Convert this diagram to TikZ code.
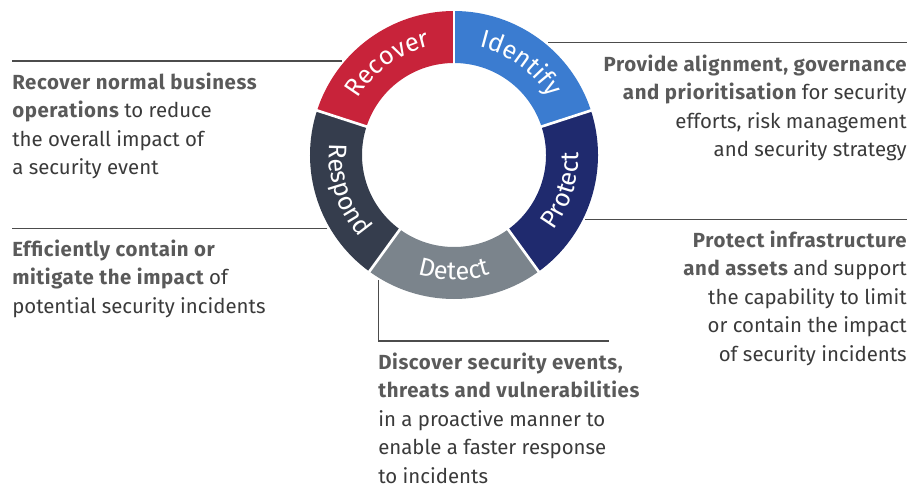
\documentclass[tikz,border=0pt]{standalone}
\usepackage{fontspec}
\setmainfont{Fira Sans}
\usetikzlibrary{decorations.text}
\definecolor{rcred}{HTML}{C8233A}
\definecolor{idblue}{HTML}{3B7CD0}
\definecolor{prnavy}{HTML}{1F2A6E}
\definecolor{dtgrey}{HTML}{7B848C}
\definecolor{rsslate}{HTML}{353D4D}
\definecolor{bodygrey}{HTML}{3A3A3A}
\definecolor{headgrey}{HTML}{5A5A5A}
\newcommand\labfont{\fontsize{19}{22}\selectfont\color{white}}
\newcommand\hl[1]{\textbf{\addfontfeatures{LetterSpace=3}\color{headgrey}#1}}
\tikzset{
  blurb/.style = {inner sep=0pt, font=\fontsize{15.3}{21.3}\selectfont, text=bodygrey},
  link/.style = {draw=black!70, line width=0.8pt},
  gap/.style = {draw=white, line width=2pt},
  seglabel/.style = {decorate, decoration={text along path, text align=center, text={|\labfont|#1}}}
}

\begin{document}
\begin{tikzpicture}[x=0.75pt, y=0.75pt]
  \useasboundingbox (0,0) rectangle (912,487);
  \begin{scope}[shift={(454,332)}]
    \foreach \a/\b/\col in {90/18/idblue, 18/-54/prnavy, -54/-126/dtgrey, -126/-198/rsslate, 162/90/rcred}
      \fill[\col] (\a:144) arc[start angle=\a, end angle=\b, radius=144] -- (\b:92) arc[start angle=\b, end angle=\a, radius=92] -- cycle;
    \foreach \a in {90,18,-54,-126,162}
      \draw[gap] (\a:90) -- (\a:146);
    \path[seglabel=Identify] (90:111) arc[start angle=90, end angle=18, radius=111];
    \path[seglabel=Recover] (162:111) arc[start angle=162, end angle=90, radius=111];
    \path[seglabel=Protect] (-54:125) arc[start angle=-54, end angle=18, radius=125];
    \path[seglabel=Detect] (-126:125) arc[start angle=-126, end angle=-54, radius=125];
    \path[seglabel=Respond] (162:125) arc[start angle=162, end angle=234, radius=125];
    \node[circle, minimum size=219pt, inner sep=0pt] (ring) at (0,0) {};
  \end{scope}

  % the base anchor sits on the last line
  \node[blurb, align=left, anchor=base west] (recov) at (12,312.5)
    {\hl{Recover normal business}\\\hl{operations} to reduce\\the overall impact of\\a security event};
  \node[blurb, align=left, anchor=base west] (resp) at (12,174)
    {\hl{Efficiently contain or}\\\hl{mitigate the impact} of\\potential security incidents};
  \node[blurb, align=right, anchor=base east] (ident) at (907,330.5)
    {\hl{Provide alignment, governance}\\\hl{and prioritisation} for security\\efforts, risk management\\and security strategy};
  \node[blurb, align=right, anchor=base east] (prot) at (907,126)
    {\hl{Protect infrastructure}\\\hl{and assets} and support\\the capability to limit\\or contain the impact\\of security incidents};
  \node[blurb, align=left, anchor=base west] (detx) at (378,4)
    {\hl{Discover security events,}\\\hl{threats and vulnerabilities}\\in a proactive manner to\\enable a faster response\\to incidents};
  \coordinate (detend) at (609,146);

  \draw[link] (ring.140) -- (ring.140 -| recov.west);
  \draw[link] (ring.210) -- (ring.210 -| resp.west);
  \draw[link] (ring.50) -- (ring.50 -| ident.east);
  \draw[link] (ring.-26) -- (ring.-26 -| prot.east);
  \draw[link] (ring.239) |- (detend);
\end{tikzpicture}
\end{document}
